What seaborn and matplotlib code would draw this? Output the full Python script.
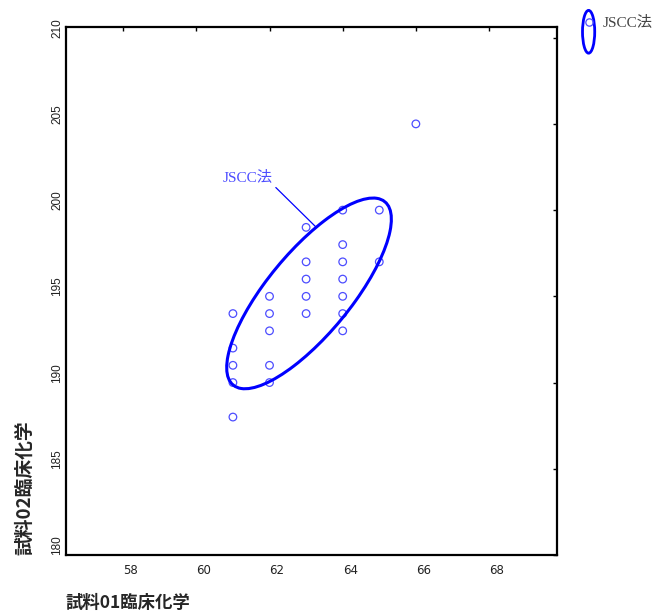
import numpy as np
import pandas as pd
import matplotlib
matplotlib.use("Agg")
import matplotlib.pyplot as plt
import seaborn as sns
from matplotlib.patches import Ellipse
from matplotlib.lines import Line2D
from matplotlib.legend_handler import HandlerBase
from matplotlib.font_manager import FontProperties

# Paired measurements: sample 01 (x) vs sample 02 (y), clinical chemistry
sample01 = [61, 61, 61, 61, 61,
            62, 62, 62, 62, 62,
            63, 63, 63, 63, 63,
            64, 64, 64, 64, 64, 64, 64,
            65, 65,
            66]
sample02 = [194, 192, 191, 190, 188,
            195, 194, 193, 191, 190,
            199, 197, 196, 195, 194,
            200, 198, 197, 196, 195, 194, 193,
            200, 197,
            205]
method_name = "JSCC法"
x_ticks = [58, 60, 62, 64, 66, 68]
y_ticks = [180, 185, 190, 195, 200, 205, 210]
x_label = "試料01臨床化学"
y_label = "試料02臨床化学"

# JSCC method ellipse: centre, half-extent along x / y, correlation
ellipse_center = [63.08, 195.17]
ellipse_half_extent = [2.25, 5.53]
ellipse_corr = 0.778

df = pd.DataFrame({"x": sample01, "y": sample02})

sns.set_style("white")
plt.rcParams["font.family"] = ["Noto Sans CJK JP", "DejaVu Sans"]

POINT_C = "#4d4dff"
ELL_C = "#0000ff"

fig = plt.figure(figsize=(6.55, 6.13), dpi=100)
ax = fig.add_axes([0.1003, 0.0946, 0.7497, 0.8614])

sns.scatterplot(data=df, x="x", y="y", ax=ax, marker="o", s=30,
                facecolors="none", edgecolor=POINT_C, linewidth=0.9,
                legend=False, zorder=3)

# Ellipse shape matrix from its extents and correlation
hx, hy = ellipse_half_extent
M = np.array([[hx * hx, ellipse_corr * hx * hy],
              [ellipse_corr * hx * hy, hy * hy]])
vals, vecs = np.linalg.eigh(M)
order = vals.argsort()[::-1]
vals, vecs = vals[order], vecs[:, order]
angle = np.degrees(np.arctan2(vecs[1, 0], vecs[0, 0]))
center = np.array(ellipse_center)
ax.add_patch(Ellipse(center, 2 * np.sqrt(vals[0]), 2 * np.sqrt(vals[1]),
                     angle=angle, fill=False, ec=ELL_C, lw=2.2, zorder=4))

# Anchor of the callout on the ellipse boundary
L = np.linalg.cholesky(M)
t = np.radians(85)
anchor = center + L @ np.array([np.cos(t), np.sin(t)])

serif_cjk = ["Liberation Serif", "Noto Sans CJK JP"]
ax.annotate(method_name, xy=anchor, xytext=(61.4, 201.9),
            ha="center", va="center", color=POINT_C,
            fontfamily=serif_cjk, fontsize=11,
            arrowprops=dict(arrowstyle="-", color=ELL_C, lw=0.9,
                            relpos=(1.0, 0.0), shrinkA=0, shrinkB=0))

ax.set_xlim(56.43, 69.85)
ax.set_ylim(180, 210.62)
ax.set_xticks(x_ticks)
ax.set_yticks(y_ticks)
ax.set_xticklabels([str(v) for v in x_ticks])
ax.set_yticklabels([str(v) for v in y_ticks])

ax.tick_params(axis="both", direction="in", length=3, width=1,
               top=True, right=True, color="black")
ax.tick_params(axis="x", pad=6.8)
ax.tick_params(axis="y", pad=4.0)
for lbl in ax.get_xticklabels():
    lbl.set(ha="left", fontfamily=["Liberation Sans Narrow", "DejaVu Sans"],
            fontsize=8.5, color="#222222")
for lbl in ax.get_yticklabels():
    lbl.set(rotation=90, rotation_mode="anchor", ha="left", va="baseline",
            fontfamily=["Liberation Sans", "DejaVu Sans"], fontsize=8.5,
            color="#222222")

for sp in ax.spines.values():
    sp.set_linewidth(1.6)
    sp.set_color("black")

ax.set_xlabel(x_label, loc="left", fontsize=12.5, fontweight="bold")
ax.xaxis.set_label_coords(0.0, -0.074)
ax.set_ylabel(y_label, loc="bottom", fontsize=13.5, fontweight="bold")
ax.yaxis.set_label_coords(-0.064, 0.0)


class OvalHandler(HandlerBase):
    def create_artists(self, legend, orig_handle, xdescent, ydescent,
                       width, height, fontsize, trans):
        cx = 0.5 * width - xdescent
        cy = 0.5 * height - ydescent
        oval = Ellipse((cx, cy - 0.75 * fontsize), width=0.8 * fontsize,
                       height=2.8 * fontsize, fill=False, ec=ELL_C, lw=2.0,
                       transform=trans)
        dot = Line2D([cx], [cy - 0.12 * fontsize], ls="none", marker="o",
                     ms=0.48 * fontsize, mfc="none", mec=POINT_C, mew=0.9,
                     transform=trans)
        return [oval, dot]


proxy = Line2D([], [])
fig.legend(handles=[proxy], labels=[method_name],
           handler_map={proxy: OvalHandler()},
           loc="center left", bbox_to_anchor=(582.5 / 655, 1 - 21.7 / 613),
           frameon=False, borderpad=0, borderaxespad=0,
           handlelength=0.8, handletextpad=0.52,
           prop=FontProperties(family=serif_cjk, size=11),
           labelcolor="#444444")

fig.savefig("out.png", dpi=100)
